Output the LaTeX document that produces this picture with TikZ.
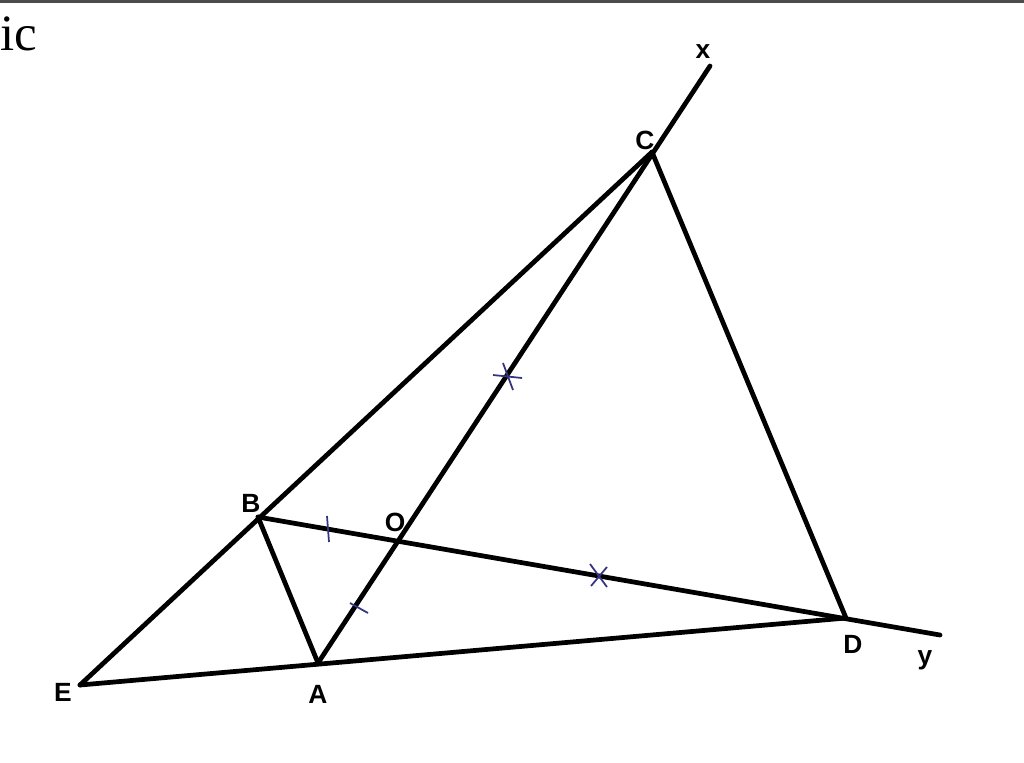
\documentclass[tikz,border=0pt]{standalone}
\usepackage{fontspec}
\setmainfont{Liberation Serif}
\newfontfamily\lblfont{Liberation Sans}
\definecolor{markblue}{RGB}{52,52,128}
\tikzset{
  seg/.style={line width=2.7pt, line cap=round},
  tickmark/.style={draw=markblue, line width=1pt},
  lbl/.style={font=\lblfont\bfseries\fontsize{15}{15}\selectfont, inner sep=0pt}
}
\begin{document}
\begin{tikzpicture}[x=0.02cm,y=-0.02cm]
	\useasboundingbox (0,0) rectangle (1024,762);
	\clip (0,0) rectangle (1024,762);
	\fill[black!70] (0,0) rectangle (1024,3);
	\node[anchor=base west, inner sep=0pt, font=\fontsize{29}{30}\selectfont] (ttl) at (0,50) {ic};
	
	% points
	\coordinate (C) at (652,152); \coordinate (xe) at (710,66);
	\coordinate (B) at (258,517); \coordinate (O) at (400,540);
	\coordinate (D) at (846,618); \coordinate (ye) at (940,635);
	\coordinate (A) at (318,663); \coordinate (E) at (80,685);
	
	\draw [seg] (E) -- (C); \draw [seg] (C) -- (D);
	\draw [seg] (E) -- (D); \draw [seg] (B) -- (A);
	\draw [seg] (A) -- (xe); \draw [seg] (B) -- (ye);
	
	% marks
	\coordinate (m1) at (328,529); \coordinate (m2) at (359,608);
	\coordinate (m3) at (508,377); \coordinate (m4) at (598,576);
	\draw [tickmark] ([shift={(-1,-13)}]m1) -- ([shift={(1,13)}]m1);
	\draw [tickmark] ([shift={(-9,-5)}]m2) -- ([shift={(9,5)}]m2);
	\draw [tickmark] ([shift={(-15,-2)}]m3) -- ([shift={(14,1)}]m3);
	\draw [tickmark] ([shift={(-5,-14)}]m3) -- ([shift={(5,13)}]m3);
	\draw [tickmark] ([shift={(-8,-12)}]m4) -- ([shift={(9,11)}]m4);
	\draw [tickmark] ([shift={(-7,10)}]m4) -- ([shift={(9,-9)}]m4);
	
	% labels
	\node [lbl] (lx) at (703,52) {x};
	\node [lbl] (lC) at (645,140) {C};
	\node [lbl] (lB) at (251,503) {B};
	\node [lbl] (lO) at (395,522) {O};
	\node [lbl] (lD) at (853,644) {D};
	\node [lbl] (ly) at (925,660) {y};
	\node [lbl] (lA) at (318,694) {A};
	\node [lbl] (lE) at (63,692) {E};
\end{tikzpicture}
\end{document}
